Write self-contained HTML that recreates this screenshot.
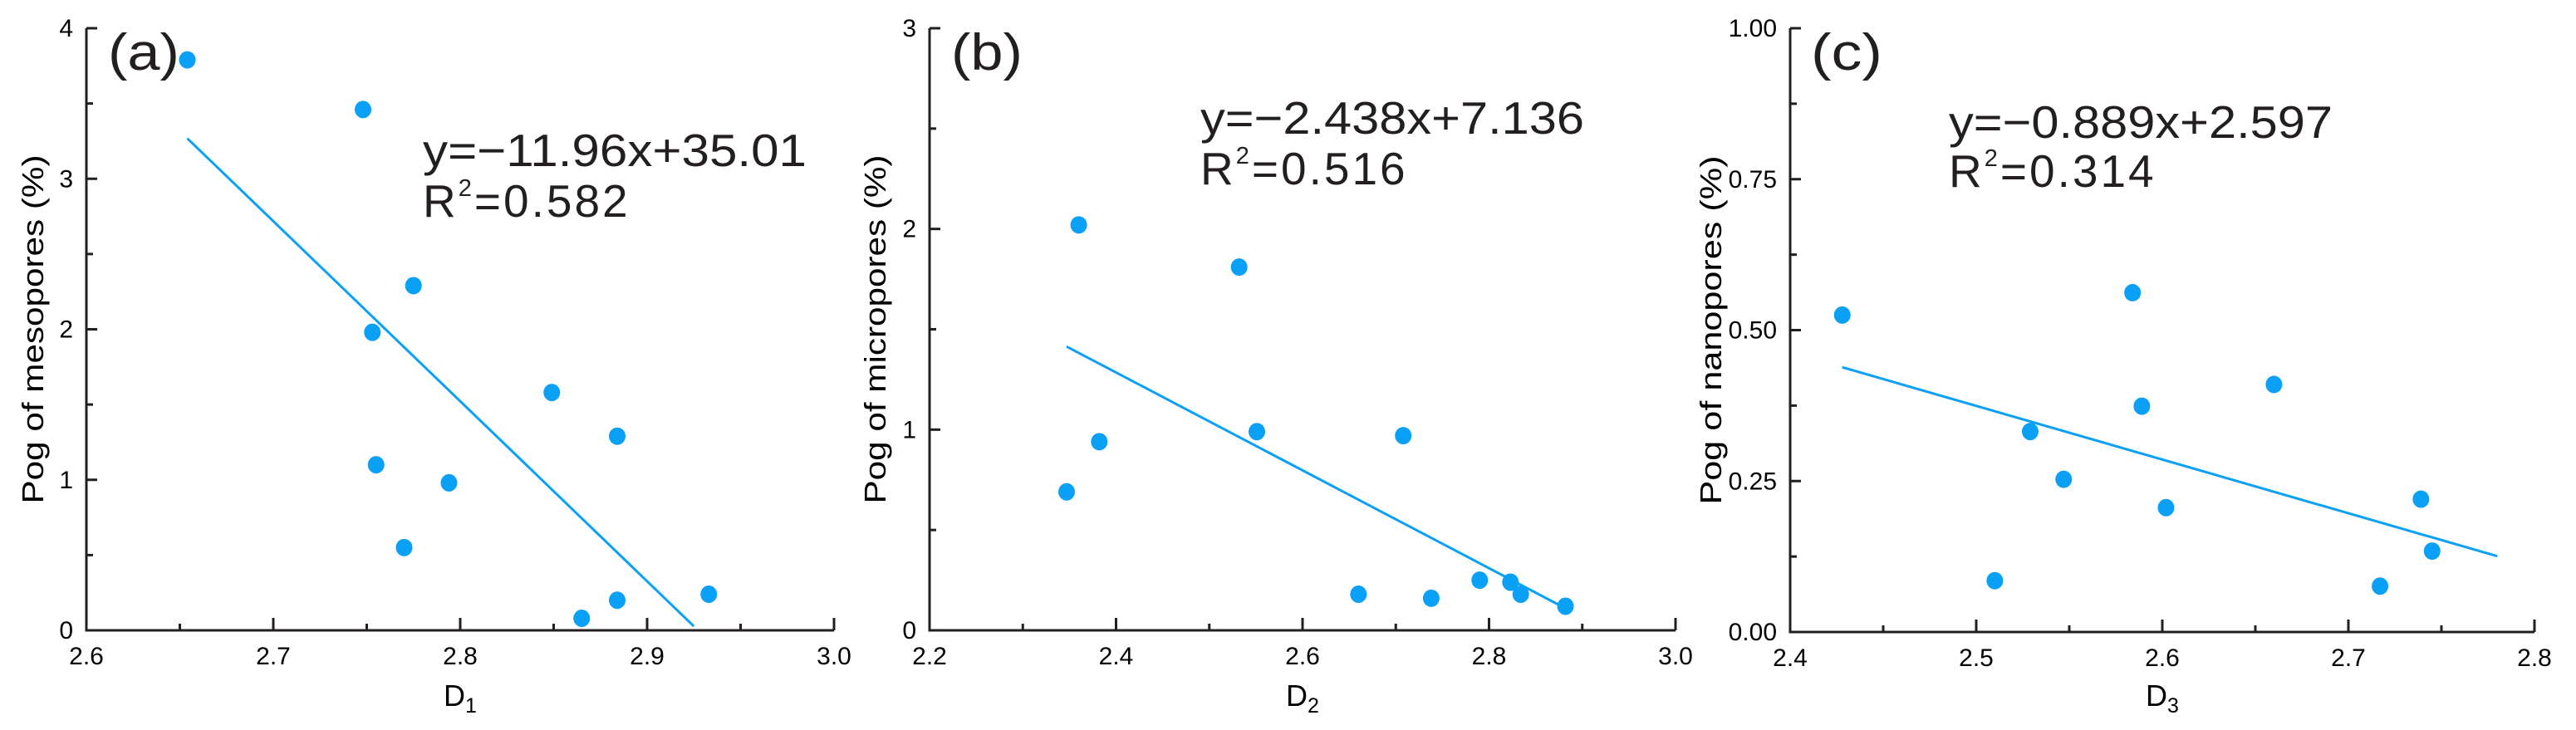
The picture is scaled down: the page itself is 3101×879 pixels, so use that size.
<!DOCTYPE html>
<html><head><meta charset="utf-8">
<style>
html,body{margin:0;padding:0;background:#fff;}
svg{display:block;font-family:"Liberation Sans",Arial,sans-serif;}
</style></head>
<body>
<svg id="chart" width="3101" height="879" viewBox="0 0 3101 879" xmlns="http://www.w3.org/2000/svg"></svg>
<script>
// ---- Panel (a) data ----
const aX = [2.654, 2.748, 2.775, 2.753, 2.849, 2.884, 2.755, 2.794, 2.770, 2.933, 2.884, 2.865];
const aY = [3.79, 3.46, 2.29, 1.98, 1.58, 1.29, 1.10, 0.98, 0.55, 0.24, 0.20, 0.08];
const aFit = [-11.96, 35.01];
const aFitRange = [2.654, 2.925];
const aXTicks = ["2.6","2.7","2.8","2.9","3.0"];
const aYTicks = ["0","1","2","3","4"];
// ---- Panel (b) data ----
const bX = [2.360, 2.532, 2.382, 2.551, 2.708, 2.347, 2.660, 2.738, 2.790, 2.823, 2.834, 2.882];
const bY = [2.02, 1.81, 0.94, 0.99, 0.97, 0.69, 0.18, 0.16, 0.25, 0.24, 0.18, 0.12];
const bFit = [-2.438, 7.136];
const bFitRange = [2.347, 2.882];
const bXTicks = ["2.2","2.4","2.6","2.8","3.0"];
const bYTicks = ["0","1","2","3"];
// ---- Panel (c) data ----
const cX = [2.428, 2.584, 2.660, 2.589, 2.529, 2.547, 2.602, 2.739, 2.745, 2.510, 2.717];
const cY = [0.525, 0.562, 0.410, 0.374, 0.332, 0.253, 0.206, 0.220, 0.134, 0.085, 0.076];
const cFit = [-0.889, 2.597];
const cFitRange = [2.428, 2.780];
const cXTicks = ["2.4","2.5","2.6","2.7","2.8"];
const cYTicks = ["0.00","0.25","0.50","0.75","1.00"];

const NS = "http://www.w3.org/2000/svg";
const svg = document.getElementById("chart");
const INK = "#231f20", BLUE = "#0aa0f5";
function mk(tag, attrs, parent){
  const e = document.createElementNS(NS, tag);
  for (const k in attrs) e.setAttribute(k, attrs[k]);
  (parent||svg).appendChild(e);
  return e;
}

const panels = [
  {id:"a", L:104, R:1004, T:34, B:759, xmin:2.6, xmax:3.0, ymin:0, ymax:4, xs:aX, ys:aY, fit:aFit, fr:aFitRange, xt:aXTicks, yt:aYTicks,
   ytitle:"Pog of mesopores (%)", ytx:52, xsub:"1", eqx:509, eqy:200, r2y:261, lx:130, ly:84, eq:"y=−11.96x+35.01", r2:"0.582"},
  {id:"b", L:1119, R:2017, T:34, B:759, xmin:2.2, xmax:3.0, ymin:0, ymax:3, xs:bX, ys:bY, fit:bFit, fr:bFitRange, xt:bXTicks, yt:bYTicks,
   ytitle:"Pog of micropores (%)", ytx:1066, xsub:"2", eqx:1445, eqy:161, r2y:222, lx:1145, ly:84, eq:"y=−2.438x+7.136", r2:"0.516"},
  {id:"c", L:2155, R:3051, T:34, B:761, xmin:2.4, xmax:2.8, ymin:0, ymax:1, xs:cX, ys:cY, fit:cFit, fr:cFitRange, xt:cXTicks, yt:cYTicks,
   ytitle:"Pog of nanopores (%)", ytx:2072, xsub:"3", eqx:2346, eqy:166, r2y:225, lx:2180, ly:84, eq:"y=−0.889x+2.597", r2:"0.314"}
];

panels.forEach(p => {
  const g = mk("g", {});
  
  
  const sx = v => p.L + (v - p.xmin) / (p.xmax - p.xmin) * (p.R - p.L);
  const sy = v => p.B - (v - p.ymin) / (p.ymax - p.ymin) * (p.B - p.T);

  const ax = mk("path", {d:`M${p.L},${p.T}V${p.B}H${p.R}`, fill:"none", stroke:INK, "stroke-width":3}, g);
  
  

  const nx = p.xt.length;
  for (let i = 0; i < nx; i++) {
    const v = p.xmin + i * (p.xmax - p.xmin) / (nx - 1);
    const x = sx(v);
    const t = mk("line", {x1:x, x2:x, y1:p.B, y2:p.B-15, stroke:INK, "stroke-width":3}, g);
    
    
    if (i < nx - 1) {
      const xm = sx(v + (p.xmax - p.xmin) / (nx - 1) / 2);
      const m = mk("line", {x1:xm, x2:xm, y1:p.B, y2:p.B-8, stroke:INK, "stroke-width":3}, g);
      
      
    }
    const lb = mk("text", {x:x, y:p.B+41, "text-anchor":"middle", "font-size":30, fill:"#000"}, g);
    lb.textContent = p.xt[i];
    
    
  }
  const ny = p.yt.length;
  for (let i = 0; i < ny; i++) {
    const v = p.ymin + i * (p.ymax - p.ymin) / (ny - 1);
    const y = sy(v);
    const t = mk("line", {x1:p.L, x2:p.L+13, y1:y, y2:y, stroke:INK, "stroke-width":3}, g);
    
    
    if (i < ny - 1) {
      const ym = sy(v + (p.ymax - p.ymin) / (ny - 1) / 2);
      const m = mk("line", {x1:p.L, x2:p.L+8, y1:ym, y2:ym, stroke:INK, "stroke-width":3}, g);
      
      
    }
    const lb = mk("text", {x:p.L-16, y:y+10, "text-anchor":"end", "font-size":30, fill:"#000"}, g);
    lb.textContent = p.yt[i];
    
    
  }
  const yc = (p.T + p.B) / 2;
  const yt = mk("text", {x:p.ytx, y:yc, transform:`rotate(-90 ${p.ytx} ${yc})`, "text-anchor":"middle", "font-size":36, fill:"#000", textLength:420, lengthAdjust:"spacingAndGlyphs"}, g);
  yt.textContent = p.ytitle;
  
  
  const xt = mk("text", {x:(p.L+p.R)/2, y:850, "text-anchor":"middle", "font-size":36, fill:"#000"}, g);
  xt.innerHTML = `D<tspan font-size="25" dy="8">${p.xsub}</tspan>`;
  
  

  const f = v => p.fit[0] * v + p.fit[1];
  const ln = mk("line", {x1:sx(p.fr[0]), y1:sy(f(p.fr[0])), x2:sx(p.fr[1]), y2:sy(f(p.fr[1])), stroke:BLUE, "stroke-width":3}, g);
  
  

  p.xs.forEach((xv, i) => {
    const c = mk("ellipse", {cx:sx(xv), cy:sy(p.ys[i]), rx:10, ry:10.5, fill:BLUE}, g);
    
    
  });

  const pl = mk("text", {x:p.lx, y:p.ly, "font-size":62, fill:INK, textLength:86, lengthAdjust:"spacingAndGlyphs"}, g);
  pl.textContent = `(${p.id})`;
  
  
  const eq = mk("text", {x:p.eqx, y:p.eqy, "font-size":55, fill:INK, textLength:462, lengthAdjust:"spacingAndGlyphs"}, g);
  eq.textContent = p.eq;
  
  
  const r2 = mk("text", {x:p.eqx, y:p.r2y, "font-size":55, fill:INK, "letter-spacing":3}, g);
  r2.innerHTML = `R<tspan font-size="29" dy="-25">2</tspan><tspan dy="25">=${p.r2}</tspan>`;
  
  
});
</script>
</body></html>
